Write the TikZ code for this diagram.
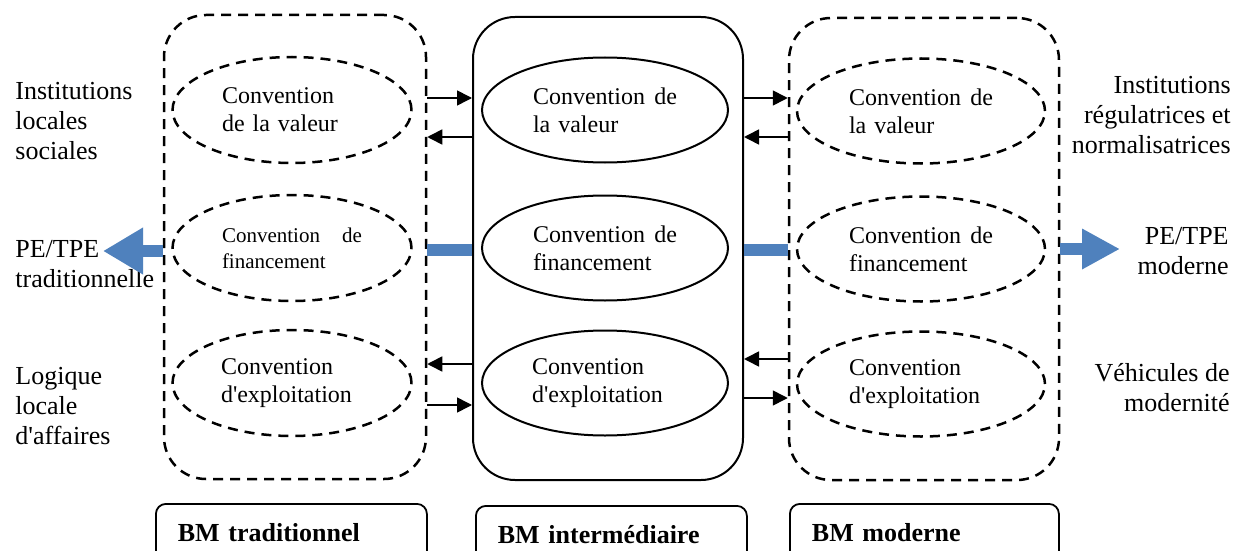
\documentclass[tikz,border=0pt]{standalone}
\usepackage{fontspec}
\setmainfont{Liberation Serif}
\usetikzlibrary{arrows.meta,shapes.geometric}
\definecolor{bmblue}{HTML}{4F81BD}
\begin{document}
\begin{tikzpicture}[x=0.5pt,y=-0.5pt,
  bigbox/.style={draw, rectangle, rounded corners=21pt, line width=1pt, inner sep=0pt},
  dashline/.style={dash pattern=on 5pt off 3.5pt, line width=1.25pt},
  conv/.style={ellipse, draw, line width=1pt, minimum width=123pt, minimum height=52.5pt, inner sep=0pt, font=\fontsize{12}{14}\selectfont, align=left},
  side/.style={font=\fontsize{13}{15}\selectfont, inner sep=0pt},
  bmlabel/.style={draw, rounded corners=5pt, line width=0.9pt, minimum height=29pt, inner xsep=11pt, text width=113.5pt, align=left, font=\fontsize{13}{15}\selectfont\bfseries, anchor=north west},
  conn/.style={line width=0.8pt, -{Triangle[length=7.5pt,width=7.5pt]}},
  bar/.style={draw=bmblue, line width=6pt},
  fatarrow/.style={draw=bmblue, fill=bmblue, line width=6pt}
]
\clip (0,0) rectangle (1242,551);
\fill[white] (0,0) rectangle (1242,551);

% big boxes
\node[bigbox, dashline, minimum width=131pt, minimum height=232pt] (L) at (295,247) {};
\node[bigbox, minimum width=135pt, minimum height=231.5pt] (M) at (608,248.5) {};
\node[bigbox, dashline, minimum width=135pt, minimum height=231pt] (R) at (924,249) {};

% ellipses left
\node[conv, dashline, minimum width=119.5pt, minimum height=53pt, text width=70pt] (L1) at (292,110) {Convention\\de la valeur};
\node[conv, dashline, minimum width=119.5pt, minimum height=53pt, text width=70pt, font=\fontsize{10.5}{13}\selectfont] (L2) at (292,248) {Convention\hfill de\\financement};
\node[conv, dashline, minimum width=119.5pt, minimum height=53pt, text width=71pt] (L3) at (292,383) {Convention\\d\textquotesingle exploitation};

% ellipses middle
\node[conv, text width=72pt] (M1) at (605,110) {Convention\hfill de\\la valeur};
\node[conv, text width=72pt] (M2) at (605,248) {Convention\hfill de\\financement};
\node[conv, text width=73pt] (M3) at (605,383) {Convention\\d\textquotesingle exploitation};

% ellipses right
\node[conv, dashline, minimum width=124pt, text width=72pt] (R1) at (921,111) {Convention\hfill de\\la valeur};
\node[conv, dashline, minimum width=124pt, text width=72pt] (R2) at (921,249) {Convention\hfill de\\financement};
\node[conv, dashline, minimum width=124pt, text width=72pt] (R3) at (921,384) {Convention\\d\textquotesingle exploitation};

% side texts
\node[side, anchor=west, align=left] (t1) at (15,121) {Institutions\\locales\\sociales};
\node[side, anchor=west, align=left] (t2) at (15,264) {PE/TPE\\traditionnelle};
\node[side, anchor=west, align=left] (t3) at (15,406) {Logique\\locale\\d\textquotesingle affaires};
\node[side, anchor=east, align=right] (t4) at (1231,115) {Institutions\\régulatrices et\\normalisatrices};
\node[side, anchor=east, align=right] (t5) at (1229,251) {PE/TPE\\moderne};
\node[side, anchor=east, align=right] (t6) at (1230,388) {Véhicules de\\modernité};

% bottom labels
\node[bmlabel] (B1) at (155,503) {BM traditionnel};
\node[bmlabel] (B2) at (475,505) {BM intermédiaire};
\node[bmlabel, text width=112.5pt] (B3) at (789,503) {BM moderne};

% connectors
\draw[conn] (L.east |- 0,98) -- (M.west |- 0,98);
\draw[conn] (M.west |- 0,137) -- (L.east |- 0,137);
\draw[conn] (M.west |- 0,364) -- (L.east |- 0,364);
\draw[conn] (L.east |- 0,405) -- (M.west |- 0,405);
\draw[conn] (M.east |- 0,98) -- (R.west |- 0,98);
\draw[conn] (R.west |- 0,137) -- (M.east |- 0,137);
\draw[conn] (R.west |- 0,359) -- (M.east |- 0,359);
\draw[conn] (M.east |- 0,398) -- (R.west |- 0,398);

% blue bars and arrows
\draw[bar] (L.east |- 0,249.5) -- (M.west |- 0,249.5);
\draw[bar] (M.east |- 0,249.5) -- (R.west |- 0,249.5);
\coordinate (tipL) at (103,251);
\coordinate (tipR) at (1120,249);
\draw[fatarrow, -{Triangle[length=20pt,width=22pt]}] (L.west |- tipL) -- (tipL);
\draw[fatarrow, -{Triangle[length=19pt,width=19pt]}] (R.east |- tipR) -- (tipR);
\end{tikzpicture}
\end{document}
